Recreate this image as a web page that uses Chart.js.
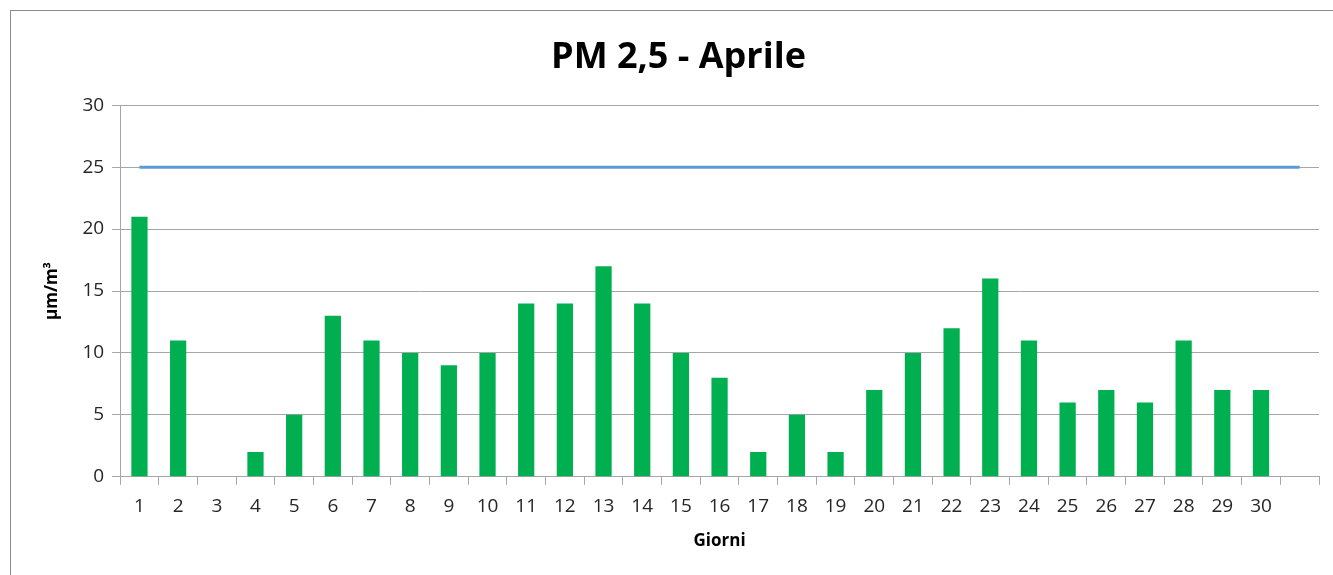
<!DOCTYPE html>
<html>
<head>
<meta charset="utf-8">
<script src="https://cdn.jsdelivr.net/npm/chart.js@4"></script>
<style>
  body { margin: 0; background: #fff; }
  #frame { position: absolute; left: 10px; top: 10px; width: 1323px; height: 565px;
           border-left: 1px solid #8c8c8c; border-top: 1px solid #8c8c8c; }
  #wrap { position: absolute; left: 11px; top: 11px; width: 1322px; height: 564px; }
</style>
</head>
<body>
<div id="frame"></div>
<div id="wrap"><canvas id="chart"></canvas></div>
<script>
  const giorni = ['1','2','3','4','5','6','7','8','9','10','11','12','13','14','15','16','17','18','19','20','21','22','23','24','25','26','27','28','29','30',''];
  const pm25 = [21, 11, 0, 2, 5, 13, 11, 10, 9, 10, 14, 14, 17, 14, 10, 8, 2, 5, 2, 7, 10, 12, 16, 11, 6, 7, 6, 11, 7, 7, null];
  const limite = [25,25,25,25,25,25,25,25,25,25,25,25,25,25,25,25,25,25,25,25,25,25,25,25,25,25,25,25,25,25,25];

  const font = "'Open Sans', sans-serif";

  new Chart(document.getElementById('chart').getContext('2d'), {
    type: 'bar',
    data: {
      labels: giorni,
      datasets: [
        { type: 'line', label: 'Limite', data: limite, borderColor: '#5B9BD5', borderWidth: 3,
          pointRadius: 0, fill: false, order: 0 },
        { label: 'PM 2,5', data: pm25, backgroundColor: '#00B050',
          barPercentage: 0.42, categoryPercentage: 1, order: 1 }
      ]
    },
    options: {
      responsive: true,
      maintainAspectRatio: false,
      animation: false,
      layout: { padding: { left: 27, right: 14, top: 2, bottom: 19 } },
      plugins: {
        legend: { display: false },
        tooltip: { enabled: false },
        title: {
          display: true,
          text: 'PM 2,5 - Aprile',
          color: '#000',
          font: { family: font, size: 36, weight: 'bold' },
          padding: { top: 23, bottom: 26 }
        }
      },
      scales: {
        x: {
          grid: { drawOnChartArea: false, drawTicks: true, tickLength: 8, color: '#a6a6a6' },
          border: { color: '#a6a6a6' },
          ticks: { color: '#262626', font: { family: font, size: 19 }, maxRotation: 0, autoSkip: false, padding: 10 },
          title: { display: true, text: 'Giorni', color: '#000', font: { family: font, size: 17, weight: 'bold' }, padding: { top: 3, bottom: 5 } }
        },
        y: {
          min: 0, max: 30,
          grid: { color: '#a6a6a6', tickLength: 8 },
          border: { color: '#a6a6a6' },
          ticks: { stepSize: 5, color: '#262626', font: { family: font, size: 19 }, padding: 8 },
          title: { display: true, text: 'µm/m³', color: '#000', font: { family: font, size: 17, weight: 'bold' }, padding: { bottom: 12 } }
        }
      }
    }
  });
</script>
</body>
</html>
